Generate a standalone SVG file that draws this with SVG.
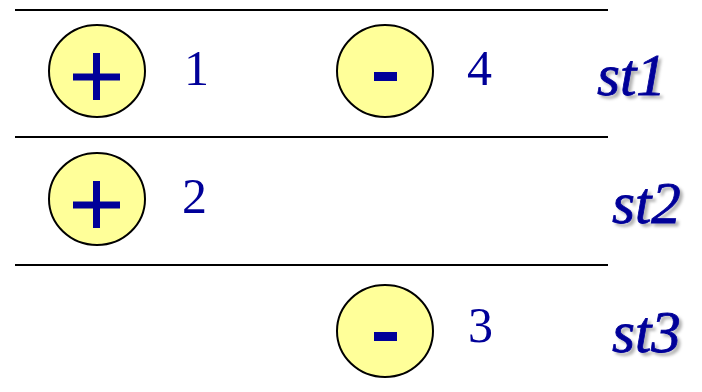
<svg xmlns="http://www.w3.org/2000/svg" width="702" height="392" viewBox="0 0 702 392">
<style>
.c{fill:#ffff99;stroke:#000;stroke-width:2}
.sym{fill:#000099}
.num{font-family:"Liberation Serif",serif;font-size:50px;fill:#000099}
.st{font-family:"Liberation Serif",serif;font-size:59px;font-style:italic;fill:#000099;stroke:#000099;stroke-width:0.8}
.ln{stroke:#000;stroke-width:2}
</style>
<defs>
<filter id="sh" x="-20%" y="-20%" width="140%" height="140%">
<feDropShadow dx="3" dy="3" stdDeviation="1.5" flood-color="#000" flood-opacity="0.3"/>
</filter>
</defs>
<g id="lines">
<line class="ln" x1="15" y1="10" x2="608" y2="10"/>
<line class="ln" x1="15" y1="137" x2="608" y2="137"/>
<line class="ln" x1="15" y1="265" x2="608" y2="265"/>
</g>
<g id="n1">
<ellipse class="c" cx="97" cy="71" rx="48" ry="46"/>
<rect class="sym" x="73" y="73.5" width="47" height="7"/>
<rect class="sym" x="93" y="53" width="7" height="47"/>
<text class="num" x="184" y="85">1</text>
</g>
<g id="n4">
<ellipse class="c" cx="385" cy="71" rx="48" ry="46"/>
<rect class="sym" x="374" y="72" width="23" height="9"/>
<text class="num" x="467" y="85">4</text>
</g>
<g id="n2">
<ellipse class="c" cx="97" cy="199" rx="48" ry="46"/>
<rect class="sym" x="73" y="201.5" width="47" height="7"/>
<rect class="sym" x="93" y="181" width="7" height="47"/>
<text class="num" x="182" y="213">2</text>
</g>
<g id="n3">
<ellipse class="c" cx="385" cy="331" rx="48" ry="46"/>
<rect class="sym" x="374" y="332" width="23" height="9"/>
<text class="num" x="468" y="342">3</text>
</g>
<g id="labels" filter="url(#sh)">
<text class="st" x="597" y="95">st1</text>
<text class="st" x="612" y="223">st2</text>
<text class="st" x="612" y="352">st3</text>
</g>
</svg>
